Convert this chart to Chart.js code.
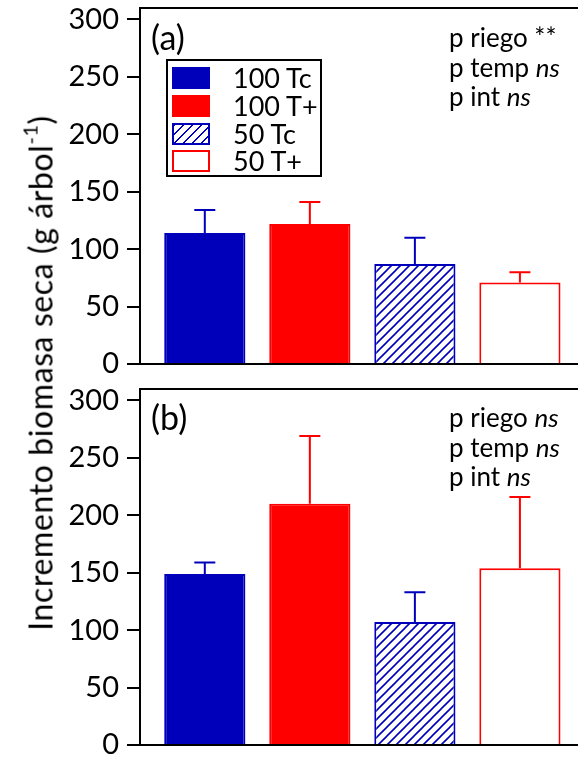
<!DOCTYPE html>
<html>
<head>
<meta charset="utf-8">
<script src="https://cdn.jsdelivr.net/npm/chart.js@4.4.1/dist/chart.umd.min.js"></script>
<style>
    body { margin: 0; background: #fff; }
    #wrap { position: relative; width: 578px; height: 758px; font-family: Lato, sans-serif; color: #000; overflow: hidden; }
    canvas { position: absolute; left: 0; display: block; }
    #cTop { top: 0; }
    #cBot { top: 376px; }
    .ytitle { position: absolute; left: 40px; top: 373px; transform: translate(-50%, -50%) rotate(-90deg); font-size: 32px; letter-spacing: 0.6px; white-space: nowrap; }
    .ytitle sup { font-size: 20px; position: relative; top: -3px; }
    .panel { position: absolute; left: 151px; font-size: 34px; line-height: 34px; }
    .stats { position: absolute; left: 449px; font-size: 26px; line-height: 29.5px; white-space: nowrap; }
    #legend { position: absolute; left: 166px; top: 59px; width: 156px; height: 118px; box-sizing: border-box; border: 2px solid #000; background: #fff; }
    #legend .sw { position: absolute; left: 4px; width: 38px; height: 22px; box-sizing: border-box; border: 2px solid; }
    #legend .lt { position: absolute; left: 65px; font-size: 27px; line-height: 22px; white-space: nowrap; }
</style>
</head>
<body>
<div id="wrap">
    <canvas id="cTop" width="578" height="376"></canvas>
    <canvas id="cBot" width="578" height="382"></canvas>
    <div class="ytitle">Incremento biomasa seca (g árbol<sup>-1</sup>)</div>
    <div class="panel" style="top:20px">(a)</div>
    <div class="panel" style="top:400px">(b)</div>
    <div class="stats" style="top:23px">p riego **<br>p temp <i>ns</i><br>p int <i>ns</i></div>
    <div class="stats" style="top:403px">p riego <i>ns</i><br>p temp <i>ns</i><br>p int <i>ns</i></div>
    <div id="legend"></div>
</div>
<script>
const groups = ["100 Tc", "100 T+", "50 Tc", "50 T+"];
const groupPos = [1, 2, 3, 4];
const meanA = [114, 122, 87, 71];
const seA = [20, 19, 23, 9];
const meanB = [149, 210, 107, 154];
const seB = [10, 59, 26, 62];
const yTicks = [0, 50, 100, 150, 200, 250, 300];

const blue = "#0000bb";
const red = "#ff0000";
const lineColors = [blue, red, blue, red];

function hatch(ctx, color) {
    const s = 9;
    const c = document.createElement("canvas");
    c.width = s;
    c.height = s;
    const g = c.getContext("2d");
    g.fillStyle = "#fff";
    g.fillRect(0, 0, s, s);
    g.strokeStyle = color;
    g.lineWidth = 1.6;
    g.beginPath();
    g.moveTo(0, s); g.lineTo(s, 0);
    g.moveTo(-2, 2); g.lineTo(2, -2);
    g.moveTo(s - 2, s + 2); g.lineTo(s + 2, s - 2);
    g.stroke();
    return ctx.createPattern(c, "repeat");
}

// error bars on top of each bar (upper side only)
const errorBars = {
    id: "errorBars",
    afterDatasetsDraw(chart, args, opts) {
        const ctx = chart.ctx;
        const y = chart.scales.y;
        ctx.save();
        ctx.lineWidth = 2;
        chart.getDatasetMeta(0).data.forEach((bar, i) => {
            const top = y.getPixelForValue(opts.mean[i] + opts.se[i]);
            ctx.strokeStyle = lineColors[i];
            ctx.beginPath();
            ctx.moveTo(bar.x, bar.y);
            ctx.lineTo(bar.x, top);
            ctx.moveTo(bar.x - 10.5, top);
            ctx.lineTo(bar.x + 10.5, top);
            ctx.stroke();
        });
        ctx.restore();
    }
};

const topFrame = {
    id: "topFrame",
    afterDraw(chart) {
        const a = chart.chartArea;
        const ctx = chart.ctx;
        ctx.save();
        ctx.strokeStyle = "#000";
        ctx.lineWidth = 2;
        ctx.beginPath();
        ctx.moveTo(a.left - 1, a.top);
        ctx.lineTo(a.right, a.top);
        ctx.stroke();
        ctx.restore();
    }
};

function makeChart(id, mean, se, padTop, xHeight) {
    const canvas = document.getElementById(id);
    const ctx = canvas.getContext("2d");
    return new Chart(ctx, {
        type: "bar",
        data: {
            datasets: [{
                data: mean.map((v, i) => ({ x: groupPos[i], y: v })),
                backgroundColor: [blue, red, hatch(ctx, blue), "#fff"],
                borderColor: lineColors,
                borderWidth: 2,
                categoryPercentage: 1,
                barPercentage: 0.773
            }]
        },
        options: {
            responsive: false,
            animation: false,
            layout: { padding: { top: padTop, left: 0, right: 0, bottom: 0 } },
            plugins: {
                legend: { display: false },
                tooltip: { enabled: false },
                errorBars: { mean: mean, se: se }
            },
            scales: {
                x: {
                    type: "linear",
                    offset: false,
                    min: 0.383,
                    max: 4.553,
                    afterBuildTicks(s) { s.ticks = groupPos.map(v => ({ value: v })); },
                    ticks: { display: false },
                    grid: { display: false },
                    border: { color: "#000", width: 2 },
                    afterFit(s) { s.height = xHeight; s.paddingLeft = 0; s.paddingRight = 0; }
                },
                y: {
                    min: 0,
                    max: 310,
                    afterBuildTicks(s) { s.ticks = yTicks.map(v => ({ value: v })); },
                    ticks: { color: "#000", padding: 8, font: { family: "Lato", size: 29 } },
                    grid: { drawOnChartArea: false, drawTicks: true, tickLength: 13, color: "#000", lineWidth: 2 },
                    border: { color: "#000", width: 2 },
                    afterFit(s) { s.width = 140; s.paddingTop = 0; s.paddingBottom = 0; }
                }
            }
        },
        plugins: [errorBars, topFrame]
    });
}

makeChart("cTop", meanA, seA, 8, 12);
makeChart("cBot", meanB, seB, 13, 13);

// legend
const legend = document.getElementById("legend");
const swatchFill = [blue, red, "repeating-linear-gradient(135deg, " + blue + " 0 1.3px, #fff 1.3px 6.3px)", "#fff"];
const rowTops = [6, 34, 62, 89];
groups.forEach((name, i) => {
    const sw = document.createElement("span");
    sw.className = "sw";
    sw.style.top = rowTops[i] + "px";
    sw.style.background = swatchFill[i];
    sw.style.borderColor = lineColors[i];
    legend.appendChild(sw);
    const lt = document.createElement("span");
    lt.className = "lt";
    lt.style.top = rowTops[i] + "px";
    lt.textContent = name;
    legend.appendChild(lt);
});
</script>
</body>
</html>
